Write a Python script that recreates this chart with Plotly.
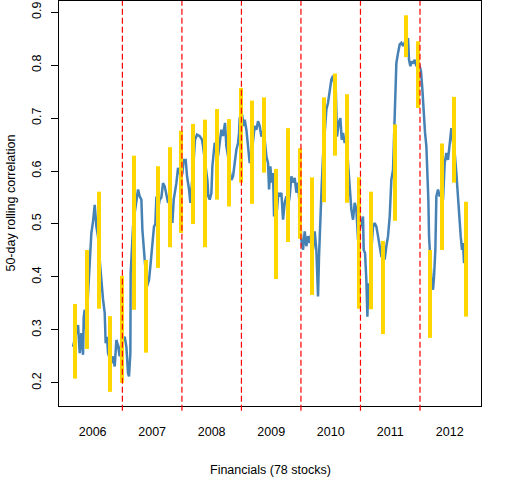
import plotly.graph_objects as go

# 50-day rolling correlation (x in decimal years)
t = [2006.170, 2006.255, 2006.283, 2006.311, 2006.339, 2006.350, 2006.367, 2006.395,
     2006.423, 2006.451, 2006.479, 2006.507, 2006.535, 2006.563, 2006.591, 2006.619,
     2006.647, 2006.675, 2006.703, 2006.719, 2006.742, 2006.759, 2006.815, 2006.843,
     2006.871, 2006.899, 2006.927, 2006.955, 2006.983, 2007.011, 2007.039, 2007.067,
     2007.095, 2007.111, 2007.134, 2007.139, 2007.156, 2007.179, 2007.207, 2007.235,
     2007.263, 2007.291, 2007.319, 2007.336, 2007.358, 2007.375, 2007.414, 2007.447,
     2007.470, 2007.504, 2007.531, 2007.554, 2007.571, 2007.599, 2007.627, 2007.655,
     2007.683, 2007.711, 2007.739, 2007.767, 2007.795, 2007.840, 2007.862, 2007.907,
     2007.935, 2007.963, 2008.008, 2008.030, 2008.064, 2008.086, 2008.120, 2008.142,
     2008.164, 2008.187, 2008.220, 2008.254, 2008.299, 2008.338, 2008.355, 2008.383,
     2008.411, 2008.428, 2008.444, 2008.467, 2008.495, 2008.512, 2008.534, 2008.551,
     2008.579, 2008.607, 2008.635, 2008.663, 2008.691, 2008.724, 2008.747, 2008.775,
     2008.803, 2008.831, 2008.859, 2008.887, 2008.915, 2008.943, 2008.960, 2008.971,
     2009.016, 2009.038, 2009.055, 2009.083, 2009.111, 2009.139, 2009.167, 2009.195,
     2009.223, 2009.251, 2009.279, 2009.307, 2009.335, 2009.363, 2009.391, 2009.419,
     2009.447, 2009.464, 2009.486, 2009.508, 2009.531, 2009.548, 2009.570, 2009.598,
     2009.620, 2009.643, 2009.671, 2009.699, 2009.727, 2009.755, 2009.783, 2009.811,
     2009.839, 2009.867, 2009.895, 2009.923, 2009.951, 2009.979, 2010.007, 2010.035,
     2010.063, 2010.091, 2010.119, 2010.147, 2010.175, 2010.203, 2010.231, 2010.259,
     2010.287, 2010.304, 2010.326, 2010.348, 2010.371, 2010.399, 2010.427, 2010.455,
     2010.483, 2010.511, 2010.539, 2010.556, 2010.584, 2010.606, 2010.634, 2010.662,
     2010.685, 2010.707, 2010.735, 2010.763, 2010.791, 2010.819, 2010.847, 2010.875,
     2010.903, 2010.931, 2010.959, 2010.987, 2011.015, 2011.043, 2011.054, 2011.077,
     2011.099, 2011.116, 2011.133, 2011.155, 2011.183, 2011.211, 2011.239, 2011.267,
     2011.295, 2011.323, 2011.351, 2011.379, 2011.407, 2011.435, 2011.463, 2011.491,
     2011.519, 2011.547, 2011.575, 2011.603, 2011.631, 2011.659, 2011.687, 2011.715,
     2011.743, 2011.771, 2011.799, 2011.816, 2011.838, 2011.861, 2011.883, 2011.911,
     2011.939, 2011.967, 2011.995, 2012.017, 2012.040, 2012.062, 2012.085, 2012.107,
     2012.124, 2012.141, 2012.152, 2012.174, 2012.197, 2012.219, 2012.236, 2012.258,
     2012.275, 2012.303, 2012.331, 2012.359, 2012.387, 2012.415, 2012.443, 2012.471,
     2012.499, 2012.527, 2012.555, 2012.583, 2012.611, 2012.639, 2012.667, 2012.684,
     2012.706, 2012.723, 2012.740]
corr = [0.268, 0.309, 0.256, 0.294, 0.253, 0.323, 0.338, 0.294,
        0.369, 0.432, 0.483, 0.505, 0.536, 0.495, 0.476, 0.432,
        0.388, 0.357, 0.332, 0.275, 0.287, 0.256, 0.237, 0.250,
        0.231, 0.281, 0.270, 0.250, 0.276, 0.281, 0.287, 0.268,
        0.218, 0.212, 0.256, 0.407, 0.451, 0.495, 0.521, 0.546,
        0.565, 0.552, 0.546, 0.489, 0.451, 0.432, 0.382, 0.394,
        0.420, 0.464, 0.495, 0.500, 0.552, 0.527, 0.546, 0.550,
        0.577, 0.571, 0.558, 0.540, 0.546, 0.502, 0.546, 0.577,
        0.606, 0.596, 0.596, 0.621, 0.621, 0.590, 0.565, 0.540,
        0.571, 0.600, 0.659, 0.669, 0.666, 0.659, 0.647, 0.621,
        0.602, 0.583, 0.552, 0.546, 0.558, 0.609, 0.634, 0.653,
        0.647, 0.628, 0.653, 0.678, 0.666, 0.691, 0.647, 0.628,
        0.600, 0.583, 0.590, 0.621, 0.640, 0.653, 0.672, 0.700,
        0.703, 0.685, 0.697, 0.678, 0.640, 0.615, 0.628, 0.653,
        0.685, 0.678, 0.694, 0.685, 0.665, 0.675, 0.659, 0.628,
        0.615, 0.565, 0.609, 0.578, 0.596, 0.514, 0.571, 0.527,
        0.559, 0.552, 0.559, 0.508, 0.540, 0.552, 0.533, 0.552,
        0.590, 0.578, 0.587, 0.559, 0.578, 0.533, 0.470, 0.451,
        0.486, 0.458, 0.477, 0.464, 0.483, 0.451, 0.486, 0.451,
        0.363, 0.439, 0.527, 0.571, 0.628, 0.678, 0.716, 0.729,
        0.750, 0.773, 0.780, 0.767, 0.760, 0.665, 0.691, 0.700,
        0.659, 0.672, 0.653, 0.665, 0.615, 0.578, 0.527, 0.508,
        0.540, 0.527, 0.470, 0.489, 0.502, 0.514, 0.451, 0.445,
        0.394, 0.325, 0.388, 0.350, 0.451, 0.495, 0.502, 0.495,
        0.477, 0.458, 0.439, 0.436, 0.433, 0.458, 0.477, 0.514,
        0.584, 0.602, 0.685, 0.804, 0.823, 0.839, 0.842, 0.836,
        0.843, 0.839, 0.851, 0.810, 0.798, 0.807, 0.803, 0.810,
        0.798, 0.807, 0.798, 0.788, 0.754, 0.710, 0.672, 0.647,
        0.602, 0.544, 0.476, 0.426, 0.388, 0.376, 0.400, 0.451,
        0.552, 0.565, 0.552, 0.559, 0.546, 0.615, 0.634, 0.621,
        0.659, 0.681, 0.653, 0.634, 0.596, 0.546, 0.514, 0.477,
        0.451, 0.464, 0.426]

# range bars every 50 trading days
seg_t = [2006.204, 2006.405, 2006.607, 2006.792, 2006.993, 2007.195, 2007.397,
         2007.598, 2007.800, 2007.985, 2008.186, 2008.388, 2008.589, 2008.791,
         2008.993, 2009.177, 2009.379, 2009.581, 2009.782, 2009.984, 2010.186,
         2010.387, 2010.572, 2010.774, 2010.975, 2011.177, 2011.378, 2011.580,
         2011.765, 2011.966, 2012.168, 2012.370, 2012.571, 2012.773]
seg_lo = [0.208, 0.264, 0.340, 0.183, 0.200, 0.338, 0.257, 0.417, 0.456, 0.483,
          0.500, 0.456, 0.546, 0.533, 0.578, 0.538, 0.597, 0.396, 0.466, 0.472,
          0.366, 0.541, 0.629, 0.540, 0.340, 0.339, 0.292, 0.506, 0.815, 0.719,
          0.285, 0.451, 0.578, 0.325]
seg_hi = [0.349, 0.451, 0.561, 0.326, 0.402, 0.629, 0.432, 0.609, 0.645, 0.676,
          0.689, 0.697, 0.717, 0.698, 0.757, 0.733, 0.739, 0.604, 0.681, 0.643,
          0.588, 0.739, 0.784, 0.745, 0.588, 0.561, 0.468, 0.688, 0.894, 0.845,
          0.451, 0.652, 0.740, 0.542]

year_starts = [2007, 2008, 2009, 2010, 2011, 2012]
year_labels = ['2006', '2007', '2008', '2009', '2010', '2011', '2012']
label_pos = [2006.5, 2007.5, 2008.5, 2009.5, 2010.5, 2011.5, 2012.5]

font = 'Liberation Sans, Arial, sans-serif'

seg_x, seg_y = [], []
for x, lo, hi in zip(seg_t, seg_lo, seg_hi):
    seg_x += [x, x, None]
    seg_y += [lo, hi, None]

fig = go.Figure()
fig.add_trace(go.Scatter(x=t, y=corr, mode='lines',
                         line=dict(color='steelblue', width=2.5)))
fig.add_trace(go.Scatter(x=seg_x, y=seg_y, mode='lines',
                         line=dict(color='gold', width=4)))

for yr in year_starts:
    fig.add_shape(type='line', xref='x', yref='paper', x0=yr, x1=yr, y0=-0.012, y1=1,
                  line=dict(color='red', width=1.2, dash='6px,3px'))

fig.update_layout(
    width=512, height=480,
    margin=dict(l=59, r=31, t=1, b=74),
    plot_bgcolor='white', paper_bgcolor='white',
    showlegend=False, hovermode=False,
    font=dict(family=font, size=12, color='black'),
    xaxis=dict(range=[2005.935, 2013.025], tickvals=label_pos, ticktext=year_labels,
               ticks='outside', ticklen=14, tickcolor='rgba(0,0,0,0)',
               showgrid=False, zeroline=False, showline=True, mirror=True,
               linecolor='black', linewidth=1, tickfont=dict(size=12.5)),
    yaxis=dict(range=[0.1563, 0.921], tickvals=[0.2, 0.3, 0.4, 0.5, 0.6, 0.7, 0.8, 0.9],
               ticktext=['0.2', '0.3', '0.4', '0.5', '0.6', '0.7', '0.8', '0.9'],
               ticks='outside', ticklen=7, tickcolor='black', tickangle=-90,
               ticklabelstandoff=5,
               showgrid=False, zeroline=False, showline=True, mirror=True,
               linecolor='black', linewidth=1, tickfont=dict(size=12.5)),
)

fig.add_annotation(text='Financials (78 stocks)', xref='paper', yref='paper',
                   x=0.5, y=-0.1575, showarrow=False, font=dict(size=12.5),
                   xanchor='center', yanchor='middle')
fig.add_annotation(text='50-day rolling correlation', xref='paper', yref='paper',
                   x=-0.116, y=0.5, showarrow=False, textangle=-90, font=dict(size=12.5),
                   xanchor='center', yanchor='middle')

# the page's default body margin would shift the chart by 8px
fig.write_html("out.html", config={'displayModeBar': False},
               post_script="document.body.style.margin='0';document.body.style.padding='0';")
